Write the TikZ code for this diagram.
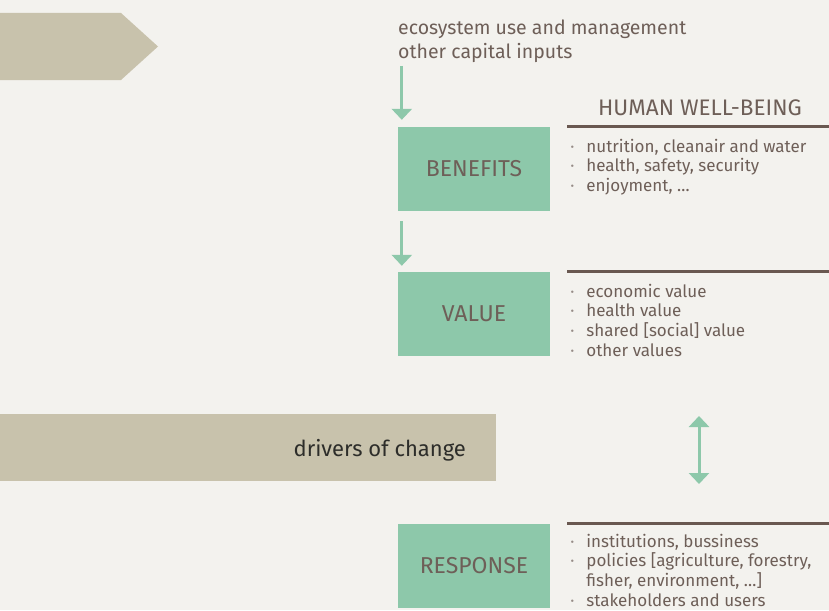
\documentclass[tikz,border=0pt]{standalone}
\usepackage{fontspec}
\setmainfont{Fira Sans}
\usepackage{xcolor}
\usetikzlibrary{calc, positioning, arrows.meta}

\definecolor{paper}{RGB}{243,242,238}
\definecolor{sand}{RGB}{200,194,172}
\definecolor{mint}{RGB}{141,200,170}
\definecolor{ink}{RGB}{110,95,88}
\definecolor{rulebrown}{RGB}{105,88,80}
\definecolor{dotgray}{RGB}{150,140,135}
\definecolor{darkink}{RGB}{45,45,42}

\newcommand{\dotitem}{\makebox[16pt][l]{\textcolor{dotgray}{\textperiodcentered}}}

\begin{document}
\begin{tikzpicture}[x=1pt, y=-1pt]
    \tikzset{
      stage/.style={
        fill=mint, minimum width=152pt, minimum height=84pt, inner sep=0pt,
        text=ink, font=\fontsize{23}{26}\selectfont,
      },
      flow/.style={
        draw=mint, line width=3pt,
        -{Triangle[width=20pt,length=11pt]},
      },
      rule/.style={
        draw=rulebrown, line width=3pt,
      },
      items/.style={
        align=left, anchor=north west, inner sep=0pt,
        text=ink, font=\fontsize{17}{19.7}\selectfont,
      },
      bar/.style={
        fill=sand, anchor=north west, inner sep=0pt,
      },
    }

    % background and page size
    \fill[paper] (0,0) rectangle (829,610);
    \useasboundingbox (0,0) rectangle (829,610);

    % incoming pressures
    \fill[sand] (0,13) -- (121,13) -- (158,46.5) -- (121,80) -- (0,80) -- cycle;

    \node[items, font=\fontsize{19.5}{24}\selectfont] (inputs) at (398,20)
      {ecosystem use and management\\other capital inputs};

    % the chain
    \node[stage] (benefits) at (474,169) {BENEFITS};
    \node[stage] (value) at (474,314) {VALUE};
    \node[stage] (response) at (474,566) {RESPONSE};

    \draw[flow] ([xshift=4pt,yshift=61pt]benefits.north west)
      -- ([xshift=4pt,yshift=7pt]benefits.north west);
    \draw[flow, shorten <=10pt, shorten >=6pt]
      ([xshift=4pt]benefits.south west) -- ([xshift=4pt]value.north west);

    % human well-being
    \node[text=ink, font=\fontsize{22.5}{26}\selectfont, anchor=base]
      (wellbeing) at (700,115) {HUMAN WELL-BEING};

    \draw[rule] ($(benefits.north east)+(17,0)$) -- ++(262,0);
    \node[items] (benefitlist) at ($(benefits.north east)+(20,12)$)
      {\dotitem nutrition, cleanair and water\\
       \dotitem health, safety, security\\
       \dotitem enjoyment, \dots};

    \draw[rule] ($(value.north east)+(17,0)$) -- ++(262,0);
    \node[items] (valuelist) at ($(value.north east)+(20,12)$)
      {\dotitem economic value\\
       \dotitem health value\\
       \dotitem shared [social] value\\
       \dotitem other values};

    \draw[rule] ($(response.north east)+(17,0)$) -- ++(262,0);
    \node[items] (responselist) at ($(response.north east)+(20,10)$)
      {\dotitem institutions, bussiness\\
       \dotitem policies [agriculture, forestry,\\
       \hspace*{16pt}fisher, environment, \dots]\\
       \dotitem stakeholders and users};

    % drivers of change
    \node[bar, minimum width=496pt, minimum height=67pt] (drivers) at (0,414) {};
    \node[text=darkink, font=\fontsize{22}{26}\selectfont, anchor=base east]
      (driverslabel) at ($(drivers.east)+(-27,9)$) {drivers of change};

    \coordinate (linkTop) at (699,416);
    \coordinate (linkBottom) at (699,484);
    \draw[flow, {Triangle[width=20pt,length=11pt]}-{Triangle[width=20pt,length=11pt]}]
      (linkTop) -- (linkBottom);
  \end{tikzpicture}
\end{document}
